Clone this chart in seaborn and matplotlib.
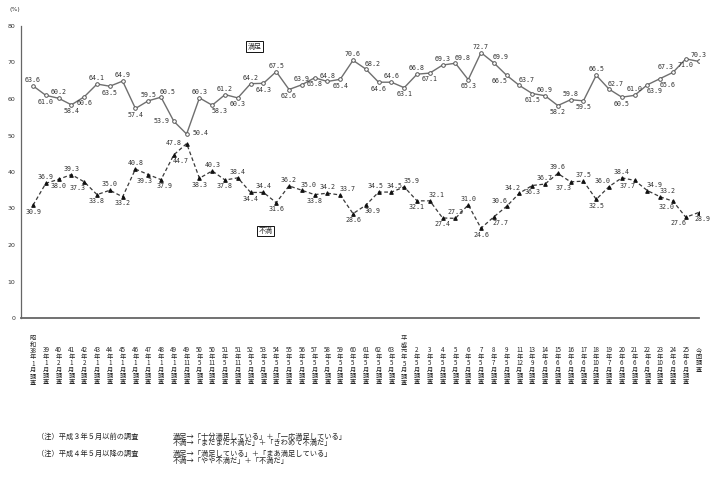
import matplotlib
matplotlib.use("Agg")
import matplotlib.pyplot as plt
import seaborn as sns
import pandas as pd

# survey rounds (x axis)
years = ["38", "39", "40", "41", "42", "43", "44", "45", "46", "47", "48", "49",
         "49", "50", "50", "51", "51", "52", "53", "54", "55", "56", "57", "58",
         "59", "60", "61", "62", "63", "元", "2", "3", "4", "5", "6", "7", "8",
         "9", "11", "13", "14", "15", "16", "17", "18", "19", "20", "21", "22",
         "23", "24", "25", "今回調査"]
months = ["1", "1", "2", "1", "2", "1", "1", "1", "1", "1", "1", "1",
          "11", "5", "11", "5", "11", "5", "5", "5", "5", "5", "5", "5",
          "5", "5", "5", "5", "5", "5", "5", "5", "5", "5", "5", "5", "7",
          "5", "12", "9", "6", "6", "6", "6", "10", "7", "6", "6", "6",
          "10", "6", "6", ""]
eras = {0: "昭和", 29: "平成"}

satisfied = [63.6, 61.0, 60.2, 58.4, 60.6, 64.1, 63.5, 64.9, 57.4, 59.5,
             60.5, 53.9, 50.4, 60.3, 58.3, 61.2, 60.3, 64.2, 64.3, 67.5,
             62.6, 63.9, 65.8, 64.8, 65.4, 70.6, 68.2, 64.6, 64.6, 63.1,
             66.8, 67.1, 69.3, 69.8, 65.3, 72.7, 69.9, 66.5, 63.7, 61.5,
             60.9, 58.2, 59.8, 59.5, 66.5, 62.7, 60.5, 61.0, 63.9, 65.6,
             67.3, 71.0, 70.3]
dissatisfied = [30.9, 36.9, 38.0, 39.3, 37.3, 33.8, 35.0, 33.2, 40.8, 39.3,
                37.9, 44.7, 47.8, 38.3, 40.3, 37.8, 38.4, 34.4, 34.4, 31.6,
                36.2, 35.0, 33.8, 34.2, 33.7, 28.6, 30.9, 34.5, 34.5, 35.9,
                32.1, 32.1, 27.4, 27.3, 31.0, 24.6, 27.7, 30.6, 34.2, 36.3,
                36.7, 39.6, 37.3, 37.5, 32.5, 36.0, 38.4, 37.7, 34.9, 33.2,
                32.0, 27.6, 28.9]

y_ticks = [0, 10, 20, 30, 40, 50, 60, 70, 80]

notes_left = ["（注）平成３年５月以前の調査", "（注）平成４年５月以降の調査"]
notes_right = [
    ["満足→「十分満足している」＋「一応満足している」",
     "不満→「まだまだ不満だ」＋「きわめて不満だ」"],
    ["満足→「満足している」＋「まあ満足している」",
     "不満→「やや不満だ」＋「不満だ」"],
]

# where each value label sits relative to its point
sat_pos = ["a", "b", "a", "b", "b", "a", "b", "a", "b", "a",
           "ar", "l", "r", "a", "br", "a", "b", "a", "b", "a",
           "b", "a", "b", "a", "b", "a", "ar", "b", "a", "b",
           "a", "b", "a", "ar", "b", "a", "ar", "bl", "ar", "b",
           "a", "b", "a", "b", "a", "ar", "b", "a", "br", "br",
           "al", "b", "a"]
dis_pos = ["b", "a", "b", "a", "bl", "b", "a", "b", "a", "b<",
           "b>", "br", "l", "b", "a", "b", "a", "b", "a", "b",
           "a", "ar", "b", "a", "ar", "b", "br", "a<", "a>", "ar",
           "b", "ar", "b", "a", "a", "b", "br", "al", "al", "b",
           "a", "a", "bl", "a", "b", "al", "a", "bl", "ar", "ar",
           "bl", "bl", "b>"]
offsets = {"a": (0, 4.3), "b": (0, -4.6), "ar": (5, 4.0), "al": (-5, 4.0),
           "br": (5, -4.3), "bl": (-5, -4.3), "l": (-9, 0.5), "r": (10, 0.5),
           "a<": (-2.5, 4.3), "a>": (2.5, 4.3), "b<": (-2.5, -4.6), "b>": (2.5, -4.6)}

sns.set_style("white")
JP = ["Noto Sans CJK JP", "DejaVu Sans"]
plt.rcParams["font.family"] = JP

W, H = 716, 479
fig = plt.figure(figsize=(W / 100, H / 100), dpi=100)
ax_l, ax_r, ax_b, ax_t = 21, 699, 318, 26
ax = fig.add_axes([ax_l / W, 1 - ax_b / H, (ax_r - ax_l) / W, (ax_b - ax_t) / H])

df = pd.DataFrame({"idx": range(len(years)), "satisfied": satisfied,
                   "dissatisfied": dissatisfied})

sns.lineplot(data=df, x="idx", y="satisfied", ax=ax, color="#6f6f6f",
             linewidth=1.0, marker="o", markersize=2.6, markerfacecolor="white",
             markeredgecolor="#555555", markeredgewidth=0.7)
sns.lineplot(data=df, x="idx", y="dissatisfied", ax=ax, color="#3a3a3a",
             linewidth=0.9, linestyle=(0, (3, 2)), marker="^", markersize=2.6,
             markerfacecolor="#111111", markeredgecolor="#111111")

for series, pos in ((satisfied, sat_pos), (dissatisfied, dis_pos)):
    for i, v in enumerate(series):
        dx, dy = offsets[pos[i]]
        ax.annotate(f"{v:.1f}", (i, v), xytext=(dx, dy), textcoords="offset points",
                    ha="center", va="center", fontsize=4.8, color="#333333",
                    family="DejaVu Sans Mono")

ax.set_xlim(-0.94, len(years) - 0.97)
ax.set_ylim(0, 80)
ax.set_xticks(range(len(years)))
ax.set_xticklabels([])
ax.set_yticks(y_ticks)
ax.set_yticklabels([str(t) for t in y_ticks], fontsize=4.5, color="#333333",
                   family="DejaVu Sans")
ax.tick_params(axis="both", direction="in", length=2.5, width=0.7, color="#555555")
ax.tick_params(axis="y", pad=4)
ax.set_xlabel("")
ax.set_ylabel("")
sns.despine(ax=ax)
for s in ("left", "bottom"):
    ax.spines[s].set_color("#666666")
ax.spines["bottom"].set_linewidth(1.3)
ax.spines["left"].set_linewidth(0.9)

# stacked category labels under the axis, one text per column
tr = ax.get_xaxis_transform()
def ay(ypix):
    return (ax_b - ypix) / (ax_b - ax_t)

for i, yr in enumerate(years):
    if yr == "今回調査":
        rows = list(yr)
    else:
        rows = [yr, "年", months[i], "月", "調", "査"]
    top = 346.3
    if i in eras:
        rows = list(eras[i]) + rows
        top = 334.0
    ax.text(i, ay(top), "\n".join(rows), transform=tr, ha="center", va="top",
            fontsize=4.5, color="#222222", linespacing=0.74, clip_on=False)

# series name boxes
box = dict(boxstyle="square,pad=0.2", facecolor="white", edgecolor="#111111", linewidth=0.7)
fig.text(254.5 / W, 1 - 46.5 / H, "満足", fontsize=5, ha="center", va="center", bbox=box)
fig.text(265.5 / W, 1 - 231 / H, "不満", fontsize=5, ha="center", va="center", bbox=box)

fig.text(15 / W, 1 - 10 / H, "(%)", fontsize=4.5, ha="center", va="center",
         family="DejaVu Sans", color="#333333")

for k in range(2):
    ytop = [432.5, 450.0][k]
    fig.text(37 / W, 1 - ytop / H, notes_left[k], fontsize=5.2, ha="left", va="top",
             color="#222222")
    fig.text(173 / W, 1 - ytop / H, "\n".join(notes_right[k]), fontsize=5.2,
             ha="left", va="top", color="#222222", linespacing=0.82)

fig.savefig("out.png", dpi=100, facecolor="white")
